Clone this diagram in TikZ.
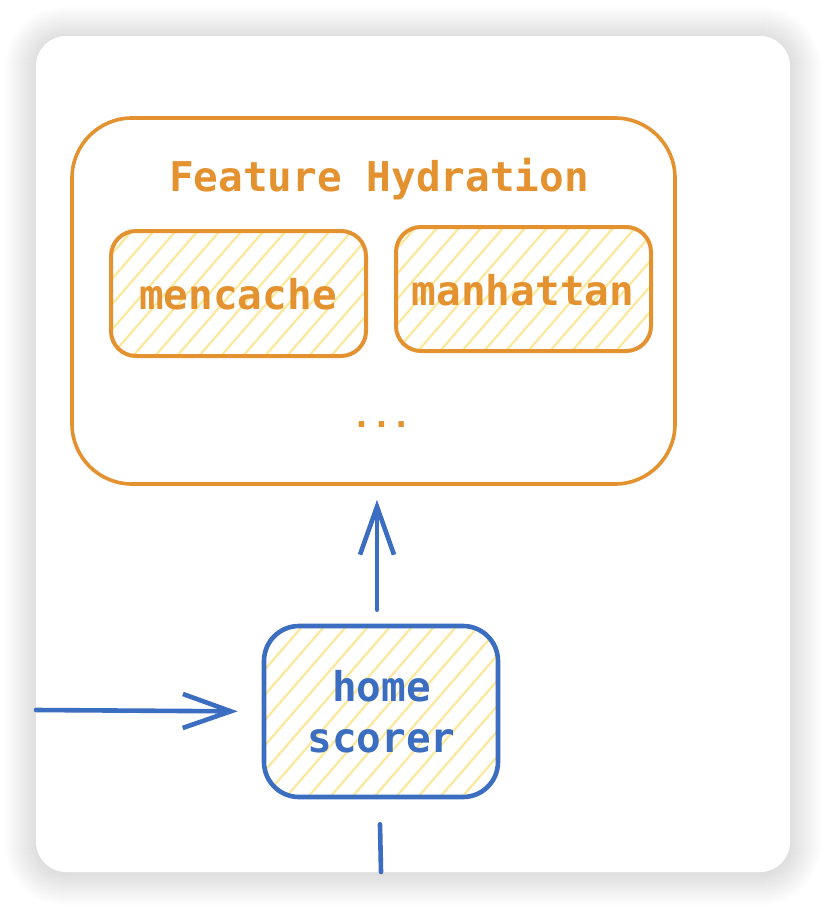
\documentclass[tikz,border=0pt]{standalone}
\usepackage{fontspec}
\setmonofont{DejaVu Sans Mono}
\usetikzlibrary{arrows.meta}
\definecolor{orng}{HTML}{E3922F}
\definecolor{blu}{HTML}{3B6DC0}
\definecolor{hatchy}{HTML}{FCE89A}
\newcommand\hatchbox[5]{%
  \begin{scope}
    \clip[rounded corners=#5] (#1,#2) rectangle (#3,#4);
    \foreach \k in {-220,-198,...,300} \draw[hatchy,line width=2.2pt] (#1+\k,#4) -- ++(200,-230);
  \end{scope}}
\begin{document}
\begin{tikzpicture}[x=1pt,y=-1pt,
  lbl/.style={font=\ttfamily\bfseries\fontsize{41}{48}\selectfont, inner sep=0pt, anchor=base},
  obox/.style={draw=orng, line width=3.6pt, rectangle, inner sep=0pt},
  bbox/.style={draw=blu, line width=4.6pt, rectangle, inner sep=0pt},
  arr/.style={draw=blu, line width=4.6pt, line cap=round, line join=round, -{Straight Barb[length=48pt,width=34pt]}},
  bline/.style={draw=blu, line width=4.6pt, line cap=round}]
\useasboundingbox (0,0) rectangle (826,908);
% shadow
\foreach \i in {1,...,32}{%
  \pgfmathsetmacro\rr{30+\i}
  \fill[black, opacity=0.004, rounded corners=\rr pt] (36-\i,38-\i) rectangle (790+\i,874+\i);
}
\fill[white, rounded corners=30pt] (36,36) rectangle (790,872);
% hatching
\hatchbox{111}{231}{366}{356}{25pt}
\hatchbox{396}{227}{651}{351}{25pt}
\hatchbox{264}{626}{498}{797}{35pt}
% boxes
\node[obox, minimum width=603pt, minimum height=366pt, rounded corners=60pt] (fh) at (373.5,301) {};
\node[obox, line width=4pt, minimum width=255pt, minimum height=125pt, rounded corners=25pt] (mc) at (238.5,293.5) {};
\node[obox, line width=4pt, minimum width=255pt, minimum height=124pt, rounded corners=25pt] (mh) at (523.5,289) {};
\node[bbox, minimum width=234pt, minimum height=171pt, rounded corners=35pt] (hs) at (381,711.5) {};
% texts
\node[lbl, text=orng] (title) at (379,191) {Feature Hydration};
\node[lbl, text=orng, font=\ttfamily\bfseries\fontsize{33}{40}\selectfont] (dots) at (381.5,427) {...};
\node[lbl, text=orng] (mct) at (238,309) {mencache};
\node[lbl, text=orng] (mht) at (523,305) {manhattan};
\node[lbl, text=blu] (hst1) at (381.5,701) {home};
\node[lbl, text=blu] (hst2) at (381.5,752) {scorer};
% connectors
\coordinate (L) at (36,710);
\coordinate (B) at (381,872);
\draw[arr] ([xshift=-4pt,yshift=14pt]hs.north) -- ([xshift=3.5pt,yshift=-14pt]fh.south);
\draw[arr, shorten >=24pt] (L) -- (hs.west);
\draw[bline] ([xshift=-1pt,yshift=-25pt]hs.south) -- (B);
\end{tikzpicture}
\end{document}
